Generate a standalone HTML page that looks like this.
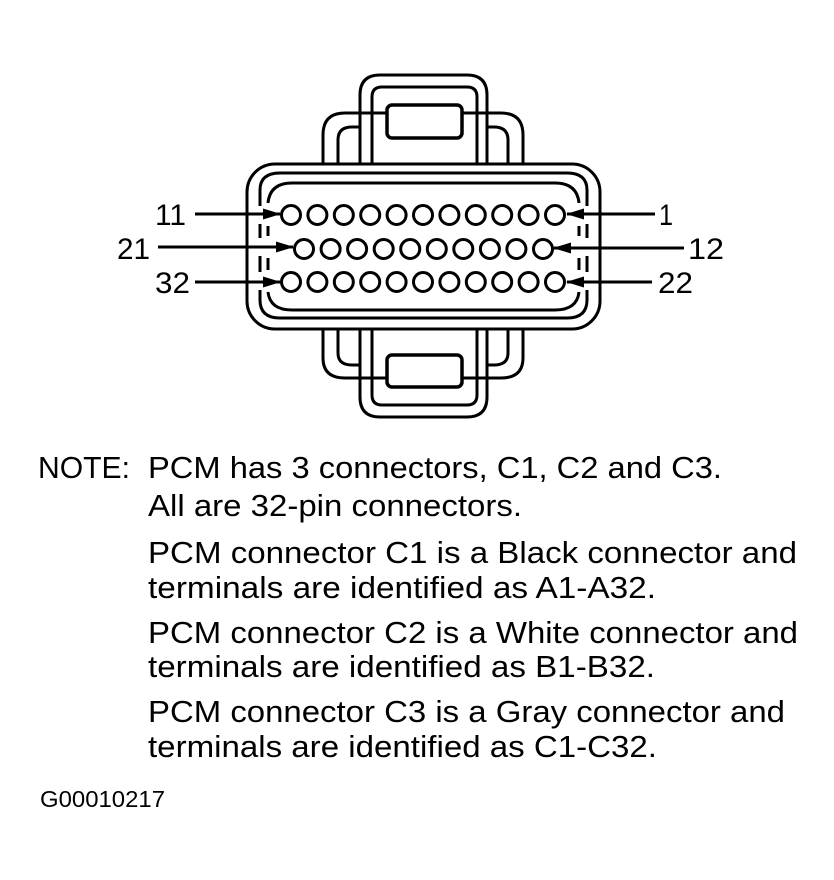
<!DOCTYPE html>
<html><head><meta charset="utf-8"><style>
html,body{margin:0;padding:0;background:#fff;}
svg{display:block;}
text{font-family:"Liberation Sans",Arial,sans-serif;fill:#000;}
</style></head><body>
<svg width="834" height="880" viewBox="0 0 834 880" xmlns="http://www.w3.org/2000/svg">
<defs><marker id="ah" markerWidth="18" markerHeight="11" refX="17" refY="5.5" orient="auto" markerUnits="userSpaceOnUse"><path d="M0,0 L18,5.5 L0,11 Z" fill="#000"/></marker></defs>
<g fill="none" stroke="#000" stroke-width="3">
<path d="M323,164 V135 Q323,113 345,113 H360"/>
<path d="M338,164 V140 Q338,127 352,127 H360"/>
<path d="M523,164 V135 Q523,113 501,113 H487"/>
<path d="M508,164 V140 Q508,127 494,127 H487"/>
<path d="M360,164 V95 Q360,75 380,75 H467 Q487,75 487,95 V164"/>
<path d="M372,164 V97 Q372,87 382,87 H467 Q477,87 477,97 V164"/>
<line x1="360" y1="113" x2="487" y2="113"/>
<rect x="387" y="105" width="75" height="33" rx="5" stroke-width="3.5" fill="#fff"/>
<path d="M323,329 V358 Q323,378 345,378 H360"/>
<path d="M338,329 V353 Q338,365 352,365 H360"/>
<path d="M523,329 V358 Q523,378 501,378 H487"/>
<path d="M508,329 V353 Q508,365 494,365 H487"/>
<path d="M360,329 V397 Q360,417 380,417 H467 Q487,417 487,397 V329"/>
<path d="M372,329 V395 Q372,405 382,405 H467 Q477,405 477,395 V329"/>
<line x1="360" y1="378" x2="487" y2="378"/>
<rect x="387" y="355" width="75" height="32" rx="5" stroke-width="3.5" fill="#fff"/>
<rect x="247" y="164" width="353" height="165" rx="28" fill="#fff"/>
<path d="M260,206 V190 Q260,173 280,173 H567 Q587,173 587,190 V206"/>
<path d="M260,224 V238"/><path d="M260,256 V272"/>
<path d="M260,290 V300 Q260,318 280,318 H567 Q587,318 587,300 V290"/>
<path d="M587,224 V238"/><path d="M587,256 V272"/>
<path d="M268,203 Q270,183 292,183 H555 Q577,183 579,203"/>
<path d="M268,226 V236"/><path d="M268,258 V270"/><path d="M579,226 V236"/><path d="M579,258 V270"/>
<path d="M268,292 Q270,310 292,310 H555 Q577,310 579,292"/>
</g>
<g fill="none" stroke="#000" stroke-width="3">
<circle cx="291" cy="215" r="9.5"/><circle cx="317.4" cy="215" r="9.5"/><circle cx="343.8" cy="215" r="9.5"/><circle cx="370.2" cy="215" r="9.5"/><circle cx="396.6" cy="215" r="9.5"/><circle cx="423" cy="215" r="9.5"/><circle cx="449.4" cy="215" r="9.5"/><circle cx="475.8" cy="215" r="9.5"/><circle cx="502.2" cy="215" r="9.5"/><circle cx="528.6" cy="215" r="9.5"/><circle cx="555" cy="215" r="9.5"/>
<circle cx="304" cy="249" r="9.5"/><circle cx="330.6" cy="249" r="9.5"/><circle cx="357.1" cy="249" r="9.5"/><circle cx="383.7" cy="249" r="9.5"/><circle cx="410.2" cy="249" r="9.5"/><circle cx="436.8" cy="249" r="9.5"/><circle cx="463.3" cy="249" r="9.5"/><circle cx="489.9" cy="249" r="9.5"/><circle cx="516.4" cy="249" r="9.5"/><circle cx="543" cy="249" r="9.5"/>
<circle cx="291" cy="282" r="9.5"/><circle cx="317.4" cy="282" r="9.5"/><circle cx="343.8" cy="282" r="9.5"/><circle cx="370.2" cy="282" r="9.5"/><circle cx="396.6" cy="282" r="9.5"/><circle cx="423" cy="282" r="9.5"/><circle cx="449.4" cy="282" r="9.5"/><circle cx="475.8" cy="282" r="9.5"/><circle cx="502.2" cy="282" r="9.5"/><circle cx="528.6" cy="282" r="9.5"/><circle cx="555" cy="282" r="9.5"/>
</g>
<g stroke="#000" stroke-width="3">
<line x1="195" y1="214" x2="280" y2="214" marker-end="url(#ah)"/>
<line x1="158" y1="247" x2="293" y2="247" marker-end="url(#ah)"/>
<line x1="195" y1="282" x2="280" y2="282" marker-end="url(#ah)"/>
<line x1="655" y1="214" x2="567" y2="214" marker-end="url(#ah)"/>
<line x1="684" y1="248" x2="554" y2="248" marker-end="url(#ah)"/>
<line x1="652" y1="282" x2="567" y2="282" marker-end="url(#ah)"/>
</g>
<g font-size="30">
<text x="155" y="225" textLength="31" lengthAdjust="spacingAndGlyphs">11</text>
<text x="117" y="259" textLength="33" lengthAdjust="spacingAndGlyphs">21</text>
<text x="155" y="293" textLength="35" lengthAdjust="spacingAndGlyphs">32</text>
<text x="659" y="225" textLength="14" lengthAdjust="spacingAndGlyphs">1</text>
<text x="688" y="259" textLength="36" lengthAdjust="spacingAndGlyphs">12</text>
<text x="658" y="293" textLength="35" lengthAdjust="spacingAndGlyphs">22</text>
</g>
<g font-size="31">
<text x="38" y="478" textLength="92" lengthAdjust="spacingAndGlyphs">NOTE:</text>
<text x="148" y="478" textLength="574" lengthAdjust="spacingAndGlyphs">PCM has 3 connectors, C1, C2 and C3.</text>
<text x="148" y="516" textLength="374" lengthAdjust="spacingAndGlyphs">All are 32-pin connectors.</text>
<text x="148" y="563" textLength="649" lengthAdjust="spacingAndGlyphs">PCM connector C1 is a Black connector and</text>
<text x="148" y="598" textLength="508" lengthAdjust="spacingAndGlyphs">terminals are identified as A1-A32.</text>
<text x="148" y="643" textLength="650" lengthAdjust="spacingAndGlyphs">PCM connector C2 is a White connector and</text>
<text x="148" y="677" textLength="507" lengthAdjust="spacingAndGlyphs">terminals are identified as B1-B32.</text>
<text x="148" y="722" textLength="637" lengthAdjust="spacingAndGlyphs">PCM connector C3 is a Gray connector and</text>
<text x="148" y="757" textLength="509" lengthAdjust="spacingAndGlyphs">terminals are identified as C1-C32.</text>
<text x="40" y="807" font-size="23" textLength="125" lengthAdjust="spacingAndGlyphs">G00010217</text>
</g>
</svg>
</body></html>
